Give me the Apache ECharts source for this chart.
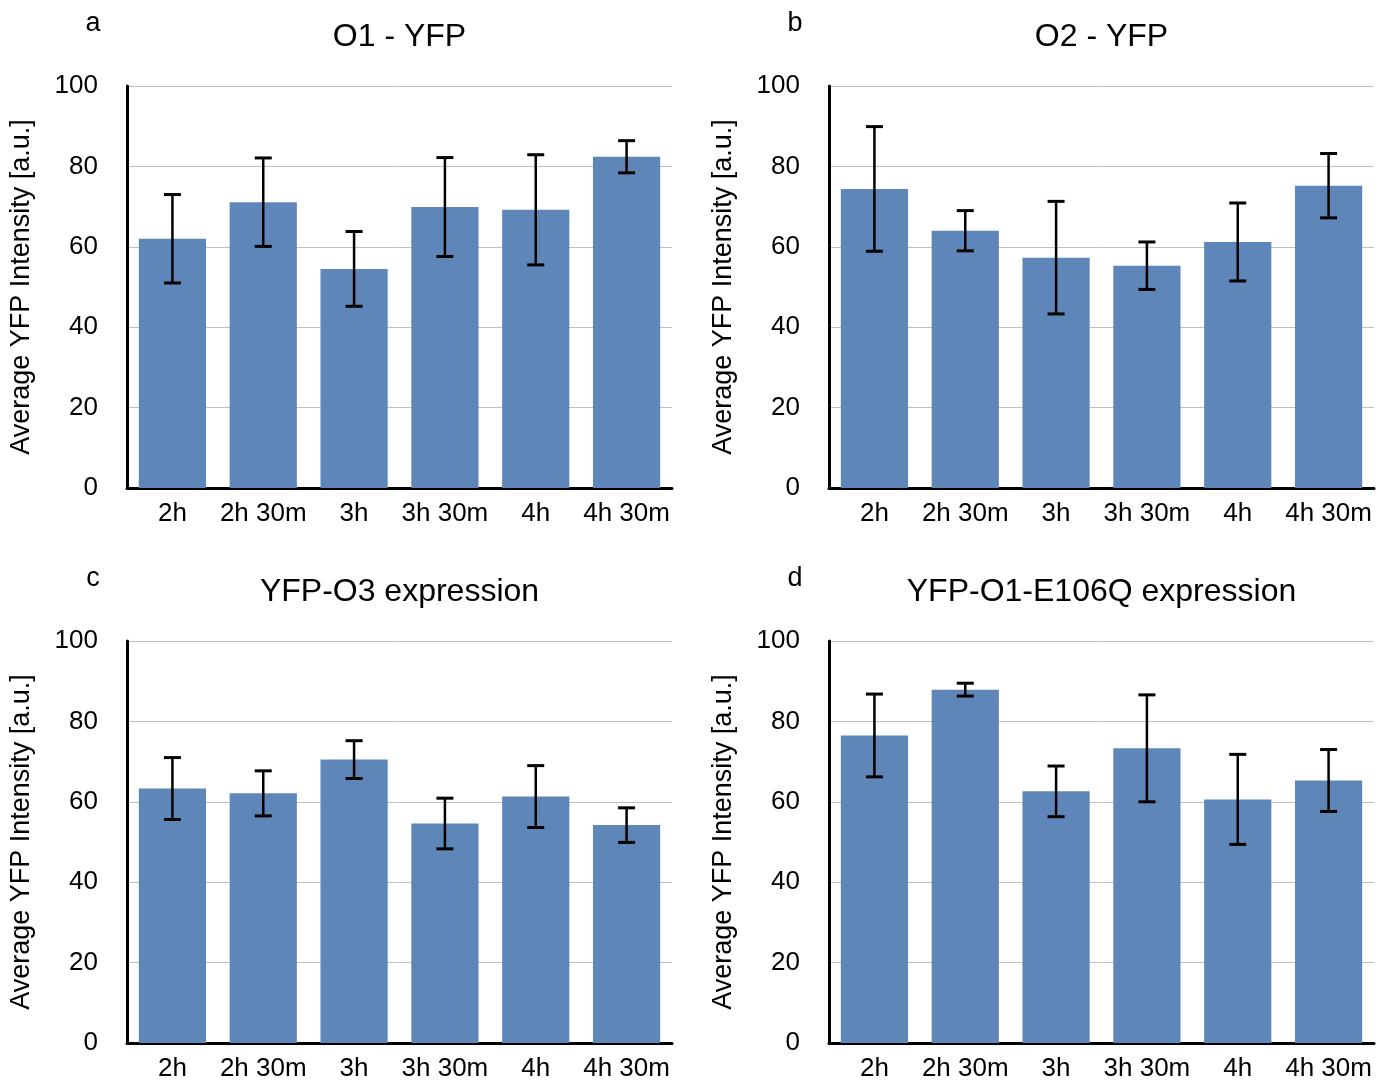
<!DOCTYPE html>
<html>
<head>
<meta charset="utf-8">
<script src="https://cdn.jsdelivr.net/npm/echarts@6/dist/echarts.min.js"></script>
<style>
  html, body { margin: 0; padding: 0; background: #fff; }
  #chart { width: 1385px; height: 1086px; }
</style>
</head>
<body>
<div id="chart"></div>
<script>
// Time points after induction
var categories = ['2h', '2h 30m', '3h', '3h 30m', '4h', '4h 30m'];
var yTicks = [0, 20, 40, 60, 80, 100];

// Panel a: O1 - YFP
var o1Mean = [62.0, 71.1, 54.5, 69.9, 69.2, 82.4];
var o1Err  = [11.0, 11.0, 9.3, 12.3, 13.7, 4.0];

// Panel b: O2 - YFP
var o2Mean = [74.4, 64.0, 57.3, 55.3, 61.2, 75.2];
var o2Err  = [15.5, 5.0, 14.0, 5.9, 9.7, 8.0];

// Panel c: YFP-O3 expression
var o3Mean = [63.3, 62.1, 70.5, 54.6, 61.3, 54.2];
var o3Err  = [7.7, 5.6, 4.7, 6.3, 7.7, 4.3];

// Panel d: YFP-O1-E106Q expression
var e106qMean = [76.5, 87.9, 62.6, 73.3, 60.6, 65.3];
var e106qErr  = [10.3, 1.6, 6.3, 13.3, 11.2, 7.7];

var panels = [
  { letter: 'a', title: 'O1 - YFP', mean: o1Mean, err: o1Err },
  { letter: 'b', title: 'O2 - YFP', mean: o2Mean, err: o2Err },
  { letter: 'c', title: 'YFP-O3 expression', mean: o3Mean, err: o3Err },
  { letter: 'd', title: 'YFP-O1-E106Q expression', mean: e106qMean, err: e106qErr }
];

var FONT = '"Liberation Sans", Arial, Helvetica, sans-serif';
var BAR_COLOR = '#5e86b9';

// Plot-area boxes for the 2x2 layout
var boxes = [
  { left: 127, top: 86, width: 545, height: 402 },
  { left: 829, top: 86, width: 545, height: 402 },
  { left: 127, top: 641, width: 545, height: 402 },
  { left: 829, top: 641, width: 545, height: 402 }
];

var grids = [], xAxes = [], yAxes = [], series = [], titles = [];

panels.forEach(function (p, i) {
  var b = boxes[i];
  grids.push({ left: b.left, top: b.top, width: b.width, height: b.height, containLabel: false });

  xAxes.push({
    type: 'category',
    gridIndex: i,
    data: categories,
    axisLine: { show: true, onZero: false, lineStyle: { color: '#000', width: 3 } },
    axisTick: { show: false },
    axisLabel: { color: '#000', fontFamily: FONT, fontSize: 26, margin: 13, interval: 0 },
    splitLine: { show: false }
  });

  yAxes.push({
    type: 'value',
    gridIndex: i,
    min: yTicks[0],
    max: yTicks[yTicks.length - 1],
    interval: yTicks[1] - yTicks[0],
    name: 'Average YFP Intensity [a.u.]',
    nameLocation: 'middle',
    nameGap: 92,
    nameRotate: 90,
    nameTextStyle: { color: '#000', fontFamily: FONT, fontSize: 27 },
    axisLine: { show: true, lineStyle: { color: '#000', width: 3 } },
    axisTick: { show: false },
    axisLabel: { color: '#000', fontFamily: FONT, fontSize: 26, margin: 29 },
    splitLine: { show: true, lineStyle: { color: '#c0c0c0', width: 1 } }
  });

  series.push({
    type: 'bar',
    xAxisIndex: i,
    yAxisIndex: i,
    data: p.mean,
    barCategoryGap: '26%',
    itemStyle: { color: BAR_COLOR },
    silent: true,
    z: 2
  });

  // Error bars: mean ± err, drawn as a stem with two caps
  series.push({
    type: 'custom',
    xAxisIndex: i,
    yAxisIndex: i,
    data: p.mean.map(function (m, k) { return [k, m - p.err[k], m + p.err[k]]; }),
    encode: { x: 0, y: [1, 2] },
    silent: true,
    z: 5,
    renderItem: function (params, api) {
      var lo = api.coord([api.value(0), api.value(1)]);
      var hi = api.coord([api.value(0), api.value(2)]);
      var half = 8.5;
      return {
        type: 'group',
        children: [
          { type: 'line', shape: { x1: hi[0], y1: hi[1], x2: lo[0], y2: lo[1] }, style: { stroke: '#000', lineWidth: 2.5 } },
          { type: 'line', shape: { x1: hi[0] - half, y1: hi[1], x2: hi[0] + half, y2: hi[1] }, style: { stroke: '#000', lineWidth: 3 } },
          { type: 'line', shape: { x1: lo[0] - half, y1: lo[1], x2: lo[0] + half, y2: lo[1] }, style: { stroke: '#000', lineWidth: 3 } }
        ]
      };
    }
  });

  titles.push({
    text: p.title,
    left: b.left + b.width / 2,
    top: b.top - 65,
    padding: 0,
    textAlign: 'center',
    textStyle: { color: '#000', fontFamily: FONT, fontSize: 32, fontWeight: 'normal' }
  });
  titles.push({
    text: p.letter,
    left: b.left - 34,
    top: b.top - 76,
    padding: 0,
    textAlign: 'center',
    textStyle: { color: '#000', fontFamily: FONT, fontSize: 27, fontWeight: 'normal' }
  });
});

var chart = echarts.init(document.getElementById('chart'), null, { renderer: 'canvas' });
chart.setOption({
  backgroundColor: '#fff',
  animation: false,
  title: titles,
  grid: grids,
  xAxis: xAxes,
  yAxis: yAxes,
  series: series
});
</script>
</body>
</html>
